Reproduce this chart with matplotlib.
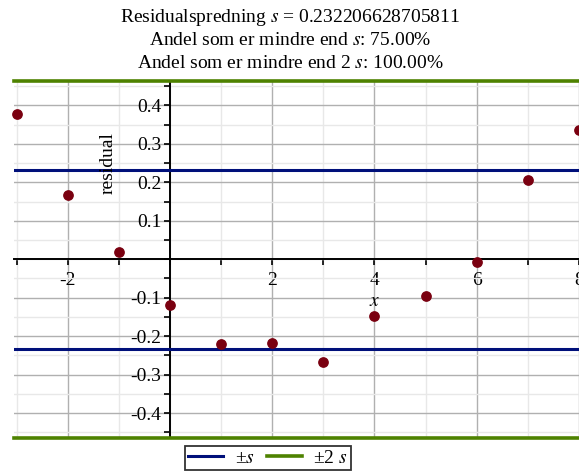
import matplotlib
matplotlib.use("Agg")
import matplotlib.pyplot as plt
from matplotlib.ticker import MultipleLocator
import numpy as np

plt.rcParams["font.family"] = ["Liberation Serif", "DejaVu Serif"]
plt.rcParams["mathtext.fontset"] = "stix"

# residuals
x_vals = [-3, -2, -1, 0, 1, 2, 3, 4, 5, 6, 7, 8]
residuals = [0.377, 0.168, 0.019, -0.119, -0.220, -0.218, -0.267,
             -0.147, -0.096, -0.006, 0.206, 0.336]
s = 0.232206628705811
x_ticks = [-2, 2, 4, 6, 8]
y_ticks = [-0.4, -0.3, -0.2, -0.1, 0.1, 0.2, 0.3, 0.4]
title_lines = [
    "Residualspredning $s$ = 0.232206628705811",
    "Andel som er mindre end $s$: 75.00%",
    "Andel som er mindre end 2 $s$: 100.00%",
]

BLUE = "#00107a"
GREEN = "#4e8200"
DOT = "#7a0010"

W, H = 579, 471
fig = plt.figure(figsize=(W / 100, H / 100), dpi=100)
ax = fig.add_axes([14 / W, (H - 438) / H, (W - 14) / W, (438 - 80.5) / H])

ax.set_xlim(-3.05, 8.0)
ax.set_ylim(-2 * s, 2 * s)

ax.xaxis.set_major_locator(MultipleLocator(2))
ax.xaxis.set_minor_locator(MultipleLocator(1))
ax.yaxis.set_major_locator(MultipleLocator(0.1))
ax.yaxis.set_minor_locator(MultipleLocator(0.05))
ax.grid(True, which="major", color="#b0b0b0", lw=1.0, zorder=0)
ax.grid(True, which="minor", color="#e8e8e8", lw=1.0, zorder=0)

for side in ("top", "right"):
    ax.spines[side].set_visible(False)
ax.spines["left"].set_position(("data", 0))
ax.spines["bottom"].set_position(("data", 0))
for side in ("left", "bottom"):
    ax.spines[side].set_linewidth(1.4)
    ax.spines[side].set_zorder(3)

ax.tick_params(which="both", direction="out", length=4, width=1.2,
               labelsize=14, pad=2)
ax.tick_params(axis="x", pad=5)

ax.set_xticks(x_ticks)
ax.set_xticklabels([f"{v:d}" for v in x_ticks])
ax.set_yticks(y_ticks)
ax.set_yticklabels([f"{v:.1f}" for v in y_ticks])

h1 = None
for sign in (1, -1):
    h1, = ax.plot([-3.05, 8.0], [sign * s] * 2, color=BLUE, lw=2.2, zorder=4)
    h2, = ax.plot([-3.05, 8.0], [sign * 2 * s] * 2, color=GREEN, lw=2.6,
                  zorder=4, clip_on=False)

ax.scatter(x_vals, residuals, s=45, color=DOT, zorder=5, clip_on=False)

fig.text(375 / W, 1 - 302 / H, "$x$", ha="center", va="center", fontsize=14)
fig.text(108 / W, 1 - 163 / H, "residual", rotation=90, ha="center",
         va="center", fontsize=14)

for i, line in enumerate(title_lines):
    fig.text(290 / W, 1 - (17 + 23.5 * i) / H, line, ha="center",
             va="center", fontsize=14)

leg = fig.legend([h1, h2], ["\u00b1$s$", "\u00b12 $s$"], loc="center",
                 bbox_to_anchor=(268 / W, 1 - 458 / H), ncol=2,
                 fontsize=14, frameon=True, fancybox=False, handlelength=1.8,
                 handletextpad=0.6, columnspacing=0.6, borderpad=0.15,
                 borderaxespad=0)
leg.get_frame().set_edgecolor("black")
leg.get_frame().set_linewidth(1.3)

fig.savefig("out.png", dpi=100)
